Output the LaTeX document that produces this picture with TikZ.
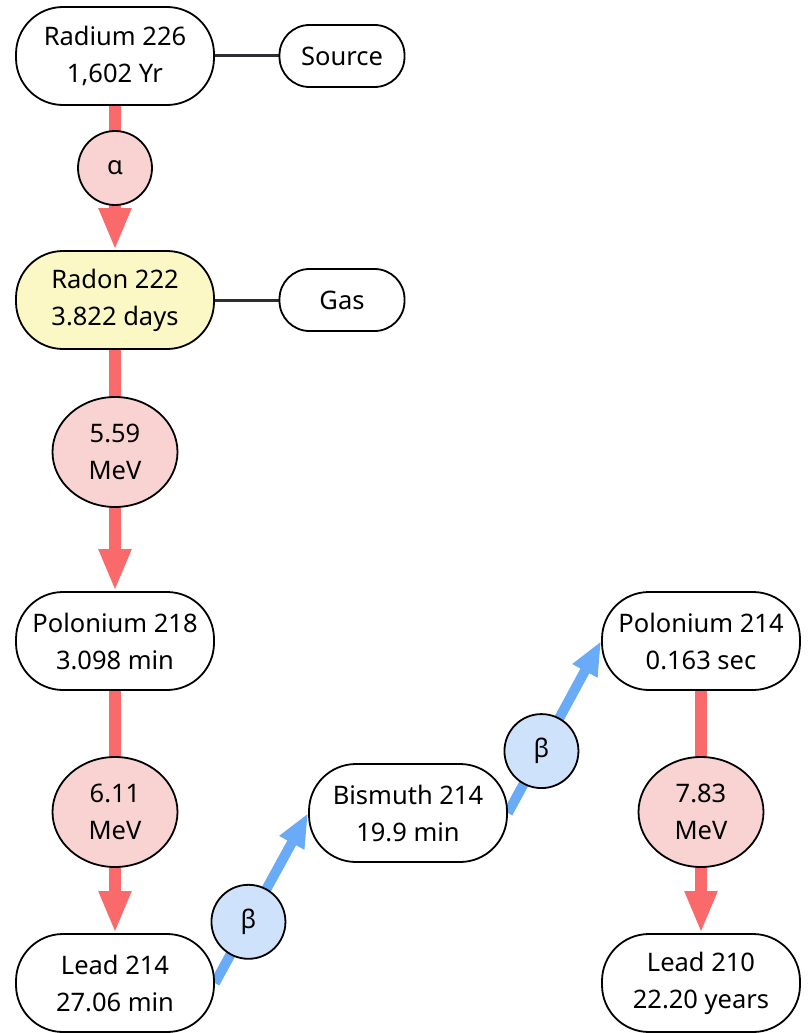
\documentclass[tikz,border=0pt]{standalone}
\usepackage{fontspec}
\setmainfont{Noto Sans}
\usetikzlibrary{arrows.meta,shapes.geometric,calc}
\definecolor{redarr}{RGB}{250,106,106}
\definecolor{pinkfill}{RGB}{249,210,210}
\definecolor{yellowfill}{RGB}{251,248,198}
\definecolor{bluearr}{RGB}{106,171,247}
\definecolor{bluefill}{RGB}{207,226,251}
\definecolor{linkgray}{RGB}{45,45,50}
\pgfdeclarelayer{bg}
\pgfsetlayers{bg,main}
\tikzset{
  txt/.style={font=\fontsize{25.5}{37}\selectfont},
  iso/.style={txt, draw=black, line width=1.8pt, fill=white, rounded corners=47pt,
    minimum width=198pt, minimum height=98pt, align=center, inner sep=0pt},
  tag/.style={txt, draw=black, line width=1.8pt, fill=white, rounded corners=30pt,
    minimum width=125pt, minimum height=62pt, inner sep=0pt},
  alphac/.style={txt, circle, draw=black, line width=1.8pt, fill=pinkfill,
    minimum size=74pt, inner sep=0pt},
  mev/.style={txt, ellipse, draw=black, line width=1.8pt, fill=pinkfill,
    minimum width=125pt, minimum height=110pt, inner sep=0pt, align=center},
  betac/.style={txt, circle, draw=black, line width=1.8pt, fill=bluefill,
    minimum size=74pt, inner sep=0pt},
  redarrow/.style={draw=redarr, line width=12pt,
    -{Triangle[width=30pt,length=42pt]}},
  bluearrow/.style={draw=bluearr, line width=10pt,
    -{Triangle[width=26pt,length=34pt]}},
  link/.style={draw=linkgray, line width=3pt},
}
\begin{document}
\begin{tikzpicture}[x=1pt,y=-1pt]
\useasboundingbox (0,0) rectangle (808,1033);
% isotope nodes
\node[iso] (ra226) at (115,56) {Radium 226\\1,602 Yr};
\node[tag] (source) at (342,56) {Source};
\node[iso, fill=yellowfill] (rn222) at (115,300) {Radon 222\\3.822 days};
\node[tag] (gas) at (342,300) {Gas};
\node[iso] (po218) at (115,641) {Polonium 218\\3.098 min};
\node[iso] (pb214) at (115,983) {Lead 214\\27.06 min};
\node[iso] (bi214) at (408,813) {Bismuth 214\\19.9 min};
\node[iso] (po214) at (701,641) {Polonium 214\\0.163 sec};
\node[iso] (pb210) at (701,983) {Lead 210\\22.20 years};
% decay labels
\node[alphac] (a1) at (115,168) {α};
\node[mev] (e1) at (115,452) {5.59\\MeV};
\node[mev] (e2) at (115,812) {6.11\\MeV};
\node[mev] (e3) at (701,812) {7.83\\MeV};
\node[betac] (b1) at ($(pb214.east)!0.36!(bi214.west)$) {β};
\node[betac] (b2) at ($(bi214.east)!0.36!(po214.west)$) {β};
% connectors
\begin{pgfonlayer}{bg}
\draw[link] (ra226.east) -- (source.west);
\draw[link] (rn222.east) -- (gas.west);
\draw[redarrow] (ra226.south) -- (rn222.north);
\draw[redarrow] (rn222.south) -- (po218.north);
\draw[redarrow] (po218.south) -- (pb214.north);
\draw[redarrow] (po214.south) -- (pb210.north);
\draw[bluearrow] (pb214.east) -- (bi214.west);
\draw[bluearrow] (bi214.east) -- (po214.west);
\end{pgfonlayer}
\end{tikzpicture}
\end{document}
